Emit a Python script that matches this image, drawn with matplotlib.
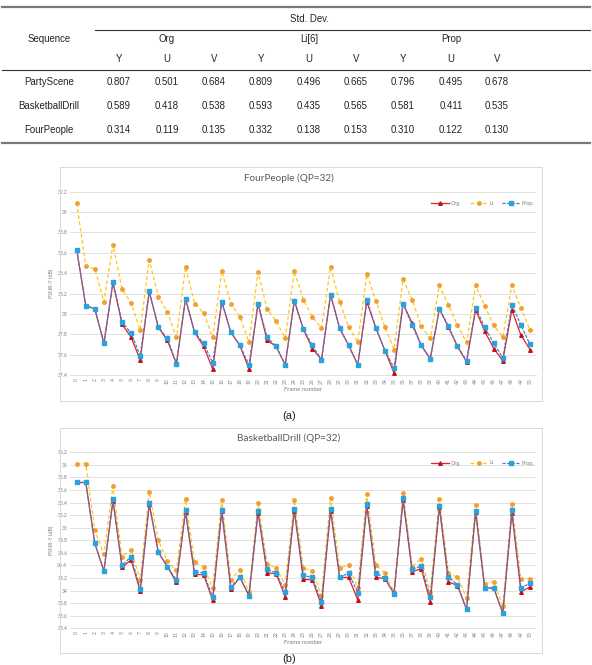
import numpy as np
import matplotlib
matplotlib.use("Agg")
import matplotlib.pyplot as plt
from matplotlib.lines import Line2D
from matplotlib.patches import Rectangle

# ---- table data ----
seq_names = ['PartyScene', 'BasketballDrill', 'FourPeople']
methods = ['Org', 'Li[6]', 'Prop']
channels = ['Y', 'U', 'V']
std_org = [[0.807, 0.501, 0.684], [0.589, 0.418, 0.538], [0.314, 0.119, 0.135]]
std_li = [[0.809, 0.496, 0.665], [0.593, 0.435, 0.565], [0.332, 0.138, 0.153]]
std_prop = [[0.796, 0.495, 0.678], [0.581, 0.411, 0.535], [0.310, 0.122, 0.130]]

# ---- chart data (PSNR-Y per frame, QP=32) ----
frames = list(range(51))
fp_li = [39.09, 38.47, 38.44, 38.12, 38.68, 38.24, 38.11, 37.84, 38.53, 38.17,
         38.02, 37.77, 38.46, 38.10, 38.01, 37.77, 38.42, 38.10, 37.97, 37.72,
         38.41, 38.05, 37.93, 37.76, 38.42, 38.14, 37.97, 37.86, 38.46, 38.12,
         37.87, 37.72, 38.39, 38.13, 37.87, 37.65, 38.34, 38.14, 37.88, 37.76,
         38.28, 38.09, 37.89, 37.72, 38.28, 38.08, 37.89, 37.77, 38.28, 38.06, 37.84]
fp_prop = [38.63, 38.08, 38.05, 37.71, 38.31, 37.92, 37.81, 37.59, 38.22, 37.87,
           37.76, 37.51, 38.15, 37.82, 37.71, 37.52, 38.12, 37.82, 37.69, 37.50,
           38.10, 37.77, 37.68, 37.50, 38.13, 37.85, 37.69, 37.55, 38.19, 37.86,
           37.69, 37.50, 38.14, 37.86, 37.64, 37.47, 38.10, 37.89, 37.69, 37.56,
           38.05, 37.88, 37.68, 37.54, 38.06, 37.87, 37.71, 37.57, 38.09, 37.89, 37.70]
fp_org = [38.63, 38.08, 38.05, 37.71, 38.31, 37.90, 37.77, 37.55, 38.22, 37.87,
          37.74, 37.51, 38.15, 37.82, 37.68, 37.46, 38.12, 37.82, 37.69, 37.46,
          38.10, 37.74, 37.68, 37.50, 38.13, 37.85, 37.66, 37.55, 38.19, 37.86,
          37.69, 37.50, 38.12, 37.86, 37.64, 37.42, 38.10, 37.91, 37.69, 37.56,
          38.05, 37.87, 37.68, 37.53, 38.04, 37.83, 37.66, 37.54, 38.04, 37.79, 37.65]

bd_li = [36.02, 36.02, 34.96, 34.58, 35.66, 34.54, 34.65, 34.17, 35.57, 34.80,
         34.47, 34.32, 35.45, 34.45, 34.38, 34.04, 35.44, 34.17, 34.33, 33.98,
         35.40, 34.42, 34.36, 34.09, 35.44, 34.36, 34.31, 33.92, 35.48, 34.36,
         34.41, 34.04, 35.54, 34.41, 34.28, 33.98, 35.56, 34.38, 34.50, 33.98,
         35.46, 34.28, 34.21, 33.88, 35.36, 34.11, 34.14, 33.75, 35.37, 34.18, 34.19]
bd_prop = [35.72, 35.72, 34.75, 34.31, 35.45, 34.40, 34.54, 34.03, 35.39, 34.61,
           34.38, 34.17, 35.28, 34.30, 34.28, 33.89, 35.29, 34.06, 34.21, 33.92,
           35.27, 34.34, 34.28, 33.97, 35.30, 34.24, 34.21, 33.82, 35.30, 34.21,
           34.28, 33.96, 35.38, 34.28, 34.20, 33.95, 35.47, 34.34, 34.39, 33.89,
           35.35, 34.22, 34.09, 33.70, 35.27, 34.04, 34.04, 33.64, 35.28, 34.04, 34.12]
bd_org = [35.72, 35.72, 34.75, 34.31, 35.43, 34.37, 34.49, 33.99, 35.37, 34.61,
          34.38, 34.13, 35.25, 34.26, 34.25, 33.85, 35.26, 34.03, 34.21, 33.92,
          35.24, 34.28, 34.27, 33.90, 35.27, 34.18, 34.17, 33.76, 35.27, 34.21,
          34.21, 33.85, 35.35, 34.21, 34.19, 33.95, 35.44, 34.30, 34.35, 33.82,
          35.33, 34.14, 34.08, 33.70, 35.25, 34.04, 34.04, 33.64, 35.24, 33.98, 34.06]

W, H = 592, 665
fig = plt.figure(figsize=(W / 100, H / 100), dpi=100)


def fx(x):
    return x / W


def fy(y):
    return 1 - y / H


tfont = 'Liberation Sans'
tfs = 6.9
txtc = '#222222'

# ---- table ----
fig.add_artist(Line2D([fx(2), fx(590)], [fy(7), fy(7)], color='#777777', lw=1.6))
fig.add_artist(Line2D([fx(95), fx(590)], [fy(29.5), fy(29.5)], color='#333333', lw=0.8))
fig.add_artist(Line2D([fx(2), fx(590)], [fy(69.5), fy(69.5)], color='#333333', lw=0.8))
fig.add_artist(Line2D([fx(2), fx(590)], [fy(143), fy(143)], color='#777777', lw=1.6))

fig.text(fx(309), fy(19), 'Std. Dev.', ha='center', va='center', fontsize=tfs,
         family=tfont, color=txtc)
fig.text(fx(49), fy(39), 'Sequence', ha='center', va='center', fontsize=tfs,
         family=tfont, color=txtc)
method_x = [167, 309, 451]
col_x = [119, 167, 214, 261, 309, 356, 403, 451, 497]
for m, mx in zip(methods, method_x):
    fig.text(fx(mx), fy(39), m, ha='center', va='center', fontsize=tfs,
             family=tfont, color=txtc)
for k, cx in enumerate(col_x):
    fig.text(fx(cx), fy(59), channels[k % 3], ha='center', va='center',
             fontsize=tfs, family=tfont, color=txtc)
row_y = [82, 106, 130]
for r, name in enumerate(seq_names):
    fig.text(fx(49), fy(row_y[r]), name, ha='center', va='center', fontsize=tfs,
             family=tfont, color=txtc)
    vals = std_org[r] + std_li[r] + std_prop[r]
    for k, v in enumerate(vals):
        fig.text(fx(col_x[k]), fy(row_y[r]), '%.3f' % v, ha='center', va='center',
                 fontsize=tfs, family=tfont, color=txtc)

# ---- charts ----
cfont = 'Lato'
red = '#E0232A'
orange = '#F0A030'
yellow = '#FFC61A'
blue = '#2AA3DC'
bline = '#4E78C0'
gridc = '#DCDCDC'
labc = '#7F7F7F'


def draw_chart(box, ax_px, title, title_y, org, li, prop, ylim, yticks, leg_y):
    x0, y0, x1, y1 = box
    fig.add_artist(Rectangle((fx(x0), fy(y1)), fx(x1) - fx(x0), fy(y0) - fy(y1),
                             fill=False, edgecolor='#D9D9D9', lw=0.7))
    ax_l, ax_t, ax_r, ax_b = ax_px
    ax = fig.add_axes([fx(ax_l), fy(ax_b), fx(ax_r) - fx(ax_l), fy(ax_t) - fy(ax_b)])
    ax.plot(frames, org, color=red, lw=0.9, marker='^', ms=2.6, mfc='#C0141C',
            mec='#C0141C', label='Org.', zorder=3)
    ax.plot(frames, li, color=yellow, lw=0.9, ls=(0, (3, 2)), marker='o', ms=2.5,
            mfc=orange, mec=orange, label='Li', zorder=2)
    ax.plot(frames, prop, color=bline, lw=0.9, ls=(0, (2.5, 1.2)), marker='s', ms=2.7,
            mfc=blue, mec=blue, label='Prop.', zorder=4)
    ax.set_xlim(-0.74, 50.66)
    ax.set_ylim(*ylim)
    ax.set_yticks(yticks)
    ax.set_yticklabels([('%.1f' % t).rstrip('0').rstrip('.') for t in yticks])
    ax.set_xticks(frames)
    ax.set_xticklabels([str(f) for f in frames], rotation=90)
    ax.tick_params(length=0, labelsize=3.6, labelcolor=labc, pad=2)
    for lab in ax.get_xticklabels() + ax.get_yticklabels():
        lab.set_family(cfont)
    ax.grid(axis='y', color=gridc, lw=0.6)
    ax.set_axisbelow(True)
    for s in ['top', 'right', 'left']:
        ax.spines[s].set_visible(False)
    ax.spines['bottom'].set_color(gridc)
    ax.spines['bottom'].set_linewidth(0.6)
    ax.set_xlabel('Frame number', fontsize=4.3, color=labc, family=cfont, labelpad=2)
    ax.set_ylabel('PSNR-Y (dB)', fontsize=3.8, color=labc, family=cfont, labelpad=2)
    fig.text(fx(289), fy(title_y), title, ha='center', va='center', fontsize=7.2,
             color='#595959', family=cfont)
    h, l = ax.get_legend_handles_labels()
    fig.legend(h, l, loc='center', bbox_to_anchor=(fx(483), fy(leg_y)), ncol=3,
               frameon=False, handlelength=3.2, columnspacing=1.6,
               handletextpad=0.3, labelcolor=labc, prop={'family': cfont, 'size': 4})
    return ax


draw_chart((60, 167, 542, 401), (70, 191.7, 536, 375), 'FourPeople (QP=32)', 178,
           fp_org, fp_li, fp_prop, (37.4, 39.2),
           [37.4, 37.6, 37.8, 38.0, 38.2, 38.4, 38.6, 38.8, 39.0, 39.2], 203)
fig.text(fx(289), fy(416), '(a)', ha='center', va='center', fontsize=8,
         family=tfont, color=txtc)

draw_chart((60, 428, 542, 653), (70, 452.3, 536, 628.3), 'BasketballDrill (QP=32)', 438,
           bd_org, bd_li, bd_prop, (33.4, 36.2),
           [33.4, 33.6, 33.8, 34.0, 34.2, 34.4, 34.6, 34.8, 35.0, 35.2, 35.4,
            35.6, 35.8, 36.0, 36.2], 463)
fig.text(fx(289), fy(659), '(b)', ha='center', va='center', fontsize=8,
         family=tfont, color=txtc)

fig.savefig('out.png', dpi=100, facecolor='white')
